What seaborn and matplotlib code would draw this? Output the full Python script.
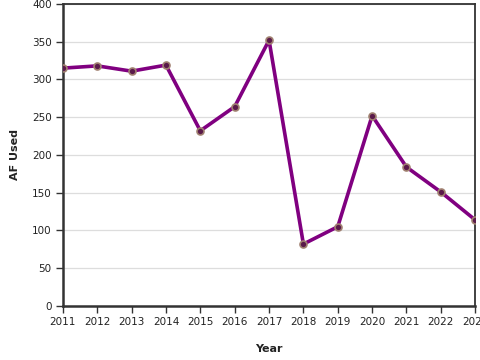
import matplotlib
matplotlib.use("Agg")
import matplotlib.pyplot as plt
import seaborn as sns
import pandas as pd

years = [2011, 2012, 2013, 2014, 2015, 2016, 2017, 2018, 2019, 2020, 2021, 2022, 2023]
af_used = [315, 318, 311, 319, 232, 264, 352, 82, 105, 252, 184, 151, 114]
df = pd.DataFrame({"Year": years, "AF Used": af_used})

sns.set_style("white")
plt.rcParams['font.family'] = ['DejaVu Sans']

fig = plt.figure(figsize=(4.8, 3.6), dpi=100)
ax = fig.add_axes([0.131, 0.15, 0.859, 0.839])

sns.lineplot(data=df, x="Year", y="AF Used", ax=ax, color="#800080", linewidth=2.6,
             marker="o", markersize=5, markerfacecolor="#5a1a4a",
             markeredgecolor="#a08070", markeredgewidth=1.2, zorder=3)

ax.set_xlim(2011, 2023)
ax.set_ylim(0, 400)
ax.set_xticks(years)
ax.set_xticklabels([str(y) for y in years], fontsize=7.5, color="#222222")
ax.set_yticks(range(0, 401, 50))
ax.set_yticklabels([str(v) for v in range(0, 401, 50)], fontsize=7.5, color="#222222")
ax.yaxis.grid(True, color="#dddddd", linewidth=0.9)
ax.xaxis.grid(False)
ax.set_axisbelow(True)
ax.tick_params(axis="both", length=5, width=1, color="#333333", pad=3, direction="out",
               bottom=True, left=True)
for s in ax.spines.values():
    s.set_color("#333333")
    s.set_linewidth(1.3)
ax.spines["left"].set_linewidth(1.8)
ax.spines["bottom"].set_linewidth(1.8)
ax.set_xlabel("Year", fontsize=8, fontweight="bold", color="#222222", labelpad=12)
ax.set_ylabel("AF Used", fontsize=8, fontweight="bold", color="#222222", labelpad=9)

fig.savefig("out.png", dpi=100)
